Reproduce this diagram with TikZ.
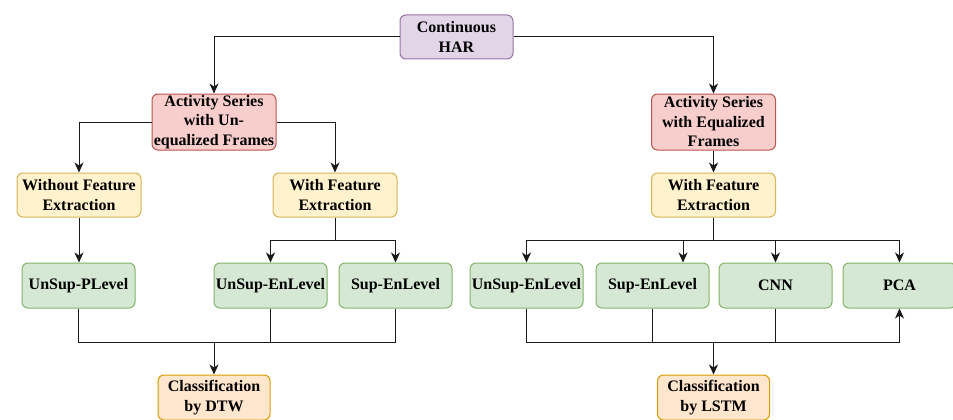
\documentclass[tikz,border=0pt]{standalone}
\usepackage{fontspec}
\setmainfont{Liberation Serif}
\usetikzlibrary{arrows.meta,calc}

\definecolor{purpleFill}{HTML}{E1D5E7}\definecolor{purpleLine}{HTML}{9673A6}
\definecolor{redFill}{HTML}{F8CECC}\definecolor{redLine}{HTML}{B85450}
\definecolor{yellowFill}{HTML}{FFF2CC}\definecolor{yellowLine}{HTML}{D6B656}
\definecolor{greenFill}{HTML}{D5E8D4}\definecolor{greenLine}{HTML}{82B366}
\definecolor{orangeFill}{HTML}{FFE6CC}\definecolor{orangeLine}{HTML}{D79B00}
\definecolor{wire}{HTML}{1A1A1A}

\tikzset{
  box/.style={rectangle, rounded corners=6pt, line width=1pt, align=center,
    inner sep=0pt, font=\fontsize{16}{19.5}\selectfont\bfseries},
  topbox/.style={box, fill=purpleFill, draw=purpleLine, minimum width=113pt, minimum height=44pt},
  seriesbox/.style={box, fill=redFill, draw=redLine, minimum width=124pt, minimum height=56pt},
  featbox/.style={box, fill=yellowFill, draw=yellowLine, minimum width=124pt, minimum height=44pt},
  methodbox/.style={box, fill=greenFill, draw=greenLine, minimum width=113pt, minimum height=45pt},
  classbox/.style={box, fill=orangeFill, draw=orangeLine, minimum width=112pt, minimum height=45pt},
  link/.style={draw=wire, line width=1pt},
  arr/.style={link, -{Stealth[length=10pt,width=9pt,inset=3pt]}}
}

\begin{document}
\begin{tikzpicture}[x=1pt,y=-1pt]
\useasboundingbox (0,0) rectangle (953,420);

% top level
\node[topbox] (har) at (456.5,37) {Continuous\\HAR};

% frame handling branches
\node[seriesbox] (actun) at (214,122) {Activity Series\\with Un-\\equalized Frames};
\node[seriesbox] (acteq) at (713.5,122) {Activity Series\\with Equalized\\Frames};

% feature extraction choices
\node[featbox] (wofe) at (79,195) {Without Feature\\Extraction};
\node[featbox] (wfeA) at (335,195) {With Feature\\Extraction};
\node[featbox] (wfeB) at (713.5,195) {With Feature\\Extraction};

% methods
\node[methodbox] (plev) at (78.5,285.5) {UnSup-PLevel};
\node[methodbox] (unA)  at (270.5,285.5) {UnSup-EnLevel};
\node[methodbox] (supA) at (395.5,285.5) {Sup-EnLevel};
\node[methodbox] (unB)  at (526.5,285.5) {UnSup-EnLevel};
\node[methodbox] (supB) at (652.5,285.5) {Sup-EnLevel};
\node[methodbox] (cnn)  at (775.5,285.5) {CNN};
\node[methodbox] (pca)  at (899.5,285.5) {PCA};

% classifiers
\node[classbox] (dtw)  at (214,397.5) {Classification\\by DTW};
\node[classbox] (lstm) at (713.5,397.5) {Classification\\by LSTM};

% top connectors
\draw[arr] (har.west) -| (actun.north);
\draw[arr] (har.east) -| (acteq.north);
\draw[arr] (actun.west) -| (wofe.north);
\draw[arr] (actun.east) -| (wfeA.north);
\draw[arr] (acteq.south) -- (wfeB.north);

% feature extraction to methods
\draw[arr] (wofe.south) -- (wofe.south |- plev.north);
\draw[arr] (wfeA.south) -- ++(0,23) -| (unA.north);
\draw[arr] (wfeA.south) -- ++(0,23) -| (supA.north);
\draw[arr] (wfeB.south) -- ++(0,23) -| (unB.north);
\draw[arr] (wfeB.south) -- ++(0,23) -| ([xshift=30.5pt]supB.north);
\draw[arr] (wfeB.south) -- ++(0,23) -| (cnn.north);
\draw[arr] (wfeB.south) -- ++(0,23) -| (pca.north);

% methods to DTW
\draw[link] (plev.south) -- ++(0,34) -| (supA.south);
\draw[link] (unA.south) -- ++(0,34);
\draw[arr] ([yshift=33pt]dtw.north) -- (dtw.north);

% methods to LSTM
\draw[arr] (unB.south) -- ++(0,34) -| (pca.south);
\draw[link] (supB.south) -- ++(0,34);
\draw[link] (cnn.south) -- ++(0,34);
\draw[arr] ([yshift=33pt]lstm.north) -- (lstm.north);
\end{tikzpicture}
\end{document}
